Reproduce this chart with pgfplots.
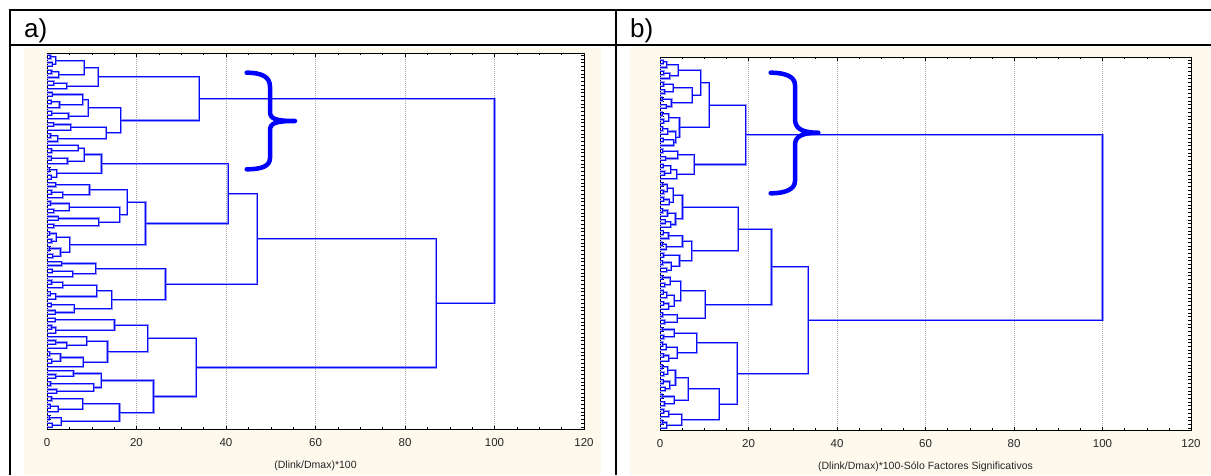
\documentclass[border=0pt]{standalone}
\usepackage{fontspec}
\setmainfont{Liberation Sans}
\usepackage{pgfplots}
\pgfplotsset{compat=1.18}
\usepackage{pgfplotstable}

\definecolor{cream}{RGB}{253,249,237}
\definecolor{treeblue}{RGB}{10,10,255}
\definecolor{treehalo}{RGB}{150,150,255}
\definecolor{braceblue}{RGB}{0,0,255}

% Each row is one merge: child positions (ya, yb), child heights (ha, hb), merge height h
\pgfplotstableread{
ya ha yb hb h
1 0 2 0 0.8
3 0 4 0 1.2
1.5 0.8 3.5 1.2 2.0
5 0 6 0 1.0
5.5 1.0 7 0 2.6
2.5 2.0 6.25 2.6 8.3
8 0 9 0 1.5
8.5 1.5 10 0 4.4
4.375 8.3 9.25 4.4 11.4
11 0 12 0 1.2
13 0 14 0 0.9
13.5 0.9 15 0 2.8
11.5 1.2 14.25 2.8 8.0
16 0 17 0 1.1
16.5 1.1 18 0 4.8
12.875 8.0 17.25 4.8 9.2
19 0 20 0 1.5
19.5 1.5 21 0 5.3
22 0 23 0 0.8
22.5 0.8 24 0 2.4
20.25 5.3 23.25 2.4 13.2
15.0625 9.2 21.75 13.2 16.5
6.8125 11.4 18.40625 16.5 34
26 0 27 0 1.0
25 0 26.5 1.0 7.0
28 0 29 0 0.9
28.5 0.9 30 0 4.6
25.75 7.0 29.25 4.6 8.3
31 0 32 0 0.5
33 0 34 0 0.9
31.5 0.5 33.5 0.9 2.2
27.5 8.3 32.5 2.2 12.2
35 0 36 0 2.0
37 0 38 0 1.0
37.5 1.0 39 0 3.5
35.5 2.0 38.25 3.5 9.5
40 0 41 0 0.8
42 0 43 0 1.5
40.5 0.8 42.5 1.5 5.0
44 0 45 0 2.5
46 0 47 0 1.5
44.5 2.5 46.5 1.5 11.6
41.5 5.0 45.5 11.6 16.3
36.875 9.5 43.5 16.3 17.9
48 0 49 0 0.6
50 0 51 0 1.0
48.5 0.6 50.5 1.0 2.1
52 0 53 0 0.5
54 0 55 0 1.3
52.5 0.5 54.5 1.3 3.0
49.5 2.1 53.5 3.0 5.1
40.1875 17.9 51.5 5.1 22
30 12.2 45.84375 22 40.5
56 0 57 0 3.3
58 0 59 0 1.2
58.5 1.2 60 0 5.8
56.5 3.3 59.25 5.8 10.9
61 0 62 0 1.0
61.5 1.0 63 0 3.5
64 0 65 0 0.7
64.5 0.7 66 0 2.0
62.25 3.5 65.25 2.0 11.1
67 0 68 0 0.9
69 0 70 0 1.8
67.5 0.9 69.5 1.8 6.1
63.75 11.1 68.5 6.1 14.5
57.875 10.9 66.125 14.5 26.5
37.921875 40.5 62 26.5 47
71 0 72 0 1.8
73 0 74 0 1.0
73.5 1.0 75 0 2.0
71.5 1.8 74.25 2.0 15.1
77 0 78 0 2.0
77.5 2.0 79 0 4.4
76 0 78.25 4.4 8.9
80 0 81 0 0.6
82 0 83 0 1.1
80.5 0.6 82.5 1.1 3.0
81.5 3.0 84 0 8.1
77.125 8.9 82.75 8.1 13.5
72.875 15.1 79.9375 13.5 22.5
86 0 87 0 2.0
85 0 86.5 2.0 5.9
88 0 89 0 0.8
90 0 91 0 2.2
88.5 0.8 90.5 2.2 10.5
85.75 5.9 89.5 10.5 12.1
92 0 93 0 1.0
94 0 95 0 0.7
94.5 0.7 96 0 2.5
92.5 1.0 95.25 2.5 8.0
97 0 98 0 0.5
99 0 100 0 1.2
97.5 0.5 99.5 1.2 3.2
93.875 8.0 98.5 3.2 16.2
87.625 12.1 96.1875 16.2 23.8
76.40625 22.5 91.90625 23.8 33.3
49.9609375 47 84.15625 33.3 87
12.609375 34 67.05859375 87 100
}\treeA

\pgfplotstableread{
ya ha yb hb h
1 0 2 0 0.7
1.5 0.7 3 0 1.5
4 0 5 0 0.9
4.5 0.9 6 0 2.2
2.25 1.5 5.25 2.2 4.1
7 0 8 0 0.8
9 0 10 0 1.0
7.5 0.8 9.5 1.0 3.0
11 0 12 0 0.5
13 0 14 0 1.4
11.5 0.5 13.5 1.4 2.6
8.5 3.0 12.5 2.6 7.3
3.75 4.1 10.5 7.3 9.2
15 0 16 0 0.5
17 0 18 0 0.9
15.5 0.5 17.5 0.9 2.0
19 0 20 0 0.6
19.5 0.6 21 0 1.8
22 0 23 0 0.7
22.5 0.7 24 0 3.1
20.25 1.8 23.25 3.1 3.6
16.5 2.0 21.75 3.6 4.4
7.125 9.2 19.125 4.4 11.1
25 0 26 0 0.6
27 0 28 0 1.3
25.5 0.6 27.5 1.3 4.0
29 0 30 0 0.7
31 0 32 0 1.0
29.5 0.7 31.5 1.0 2.4
30.5 2.4 33 0 3.8
26.5 4.0 31.75 3.8 7.7
13.125 11.1 29.125 7.7 19.4
34 0 35 0 0.5
36 0 37 0 0.8
34.5 0.5 36.5 0.8 1.6
38 0 39 0 0.9
38.5 0.9 40 0 2.1
35.5 1.6 39.25 2.1 3.0
41 0 42 0 0.6
41.5 0.6 43 0 1.7
44 0 45 0 1.2
44.5 1.2 46 0 2.4
42.25 1.7 45.25 2.4 3.5
37.375 3.0 43.75 3.5 5.1
47 0 48 0 0.7
47.5 0.7 49 0 1.9
50 0 51 0 0.5
50.5 0.5 52 0 1.4
48.25 1.9 51.25 1.4 5.1
53 0 54 0 0.8
55 0 56 0 0.6
57 0 58 0 1.5
55.5 0.6 57.5 1.5 2.5
53.5 0.8 56.5 2.5 4.4
49.75 5.1 55 4.4 7.2
40.5625 5.1 52.375 7.2 17.7
59 0 60 0 0.5
61 0 62 0 1.1
59.5 0.5 61.5 1.1 2.3
63 0 64 0 0.7
63.5 0.7 65 0 1.5
66 0 67 0 0.9
66.5 0.9 68 0 2.0
64.25 1.5 67.25 2.0 3.2
60.5 2.3 65.75 3.2 4.7
69 0 70 0 0.6
71 0 72 0 1.0
69.5 0.6 71.5 1.0 3.9
63.125 4.7 70.5 3.9 10.2
46.46875 17.7 66.8125 10.2 25.2
73 0 74 0 0.5
75 0 76 0 0.8
73.5 0.5 75.5 0.8 3.2
77 0 78 0 0.6
77.5 0.6 79 0 1.4
80 0 81 0 0.8
80.5 0.8 82 0 2.0
78.25 1.4 81.25 2.0 3.9
74.5 3.2 79.75 3.9 8.3
83 0 84 0 0.5
85 0 86 0 0.9
83.5 0.5 85.5 0.9 1.8
87 0 88 0 0.7
89 0 90 0 1.2
87.5 0.7 89.5 1.2 2.2
84.5 1.8 88.5 2.2 3.5
91 0 92 0 0.5
93 0 94 0 1.0
91.5 0.5 93.5 1.0 3.2
86.5 3.5 92.5 3.2 6.4
95 0 96 0 0.9
95.5 0.9 97 0 2.0
98 0 99 0 0.5
98.5 0.5 100 0 1.5
96.25 2.0 99.25 1.5 4.9
89.5 6.4 97.75 4.9 13.4
77.125 8.3 93.625 13.4 17.4
56.640625 25.2 85.375 17.4 33.5
21.125 19.4 71.0078125 33.5 100
}\treeB

\pgfplotsset{
  halo/.style={draw=treehalo, fill=none, line width=2.2pt, line join=miter, line cap=butt},
  dendro/.style={draw=treeblue, fill=none, line width=1pt, line join=miter, line cap=butt},
  panel/.style={
    scale only axis,
    axis background/.style={fill=white},
    xmin=0, xmax=120,
    xtick={0,20,...,120},
    minor x tick num=3,
    ytick={1,...,100},
    yticklabels={},
    y dir=reverse,
    xmajorgrids,
    major x grid style={draw=black!35, dash pattern=on 1pt off 1pt, line width=0.7pt},
    tick align=inside,
    major tick length=3.5pt,
    minor tick length=2pt,
    tick style={draw=black, line width=0.5pt},
    axis line style={draw=black, line width=0.8pt},
    /pgf/number format/assume math mode=true,
    xticklabel style={font=\fontsize{11.5}{13}\selectfont, text=black!85, yshift=-6pt},
    xlabel style={font=\fontsize{10.5}{12}\selectfont, text=black!85,
      at={(axis description cs:0.5,0)}, anchor=center, yshift=-37pt},
  },
}

% Draw every merge of a tree as one bracket (arm, joint, arm) in the given style
\newcommand{\dendrogram}[2]{%
  \pgfplotstablegetrowsof{#1}%
  \pgfmathtruncatemacro{\lastrow}{\pgfplotsretval-1}%
  \pgfplotsforeachungrouped \r in {0,...,\lastrow}{%
    \pgfplotstablegetelem{\r}{ya}\of{#1}\let\Ya\pgfplotsretval
    \pgfplotstablegetelem{\r}{ha}\of{#1}\let\Ha\pgfplotsretval
    \pgfplotstablegetelem{\r}{yb}\of{#1}\let\Yb\pgfplotsretval
    \pgfplotstablegetelem{\r}{hb}\of{#1}\let\Hb\pgfplotsretval
    \pgfplotstablegetelem{\r}{h}\of{#1}\let\Hm\pgfplotsretval
    \edef\merge{\noexpand\addplot[#2] coordinates
      {(\Ha,\Ya) (\Hm,\Ya) (\Hm,\Yb) (\Hb,\Yb)};}%
    \merge
  }%
}

\begin{document}
\begin{tikzpicture}
\path[use as bounding box] (0,0) rectangle (1211pt,475pt);

% panel backgrounds
\fill[fill=cream] (24pt,0pt) rectangle (601pt,427pt);
\fill[fill=cream] (630pt,0pt) rectangle (1211pt,428pt);

\begin{axis}[panel, at={(47pt,46pt)}, anchor=south west,
  width=537pt, height=376pt, ymin=0.468, ymax=100.532,
  xlabel={(Dlink/Dmax)*100}]
  \dendrogram{\treeA}{halo}
  \dendrogram{\treeA}{dendro}
\end{axis}

\begin{axis}[panel, at={(660pt,45pt)}, anchor=south west,
  width=531pt, height=373pt, ymin=0.193, ymax=100.538,
  xlabel={(Dlink/Dmax)*100-Sólo Factores Significativos}]
  \dendrogram{\treeB}{halo}
  \dendrogram{\treeB}{dendro}
\end{axis}

% braces marking the group of interest
\draw[draw=braceblue, line width=4.5pt, line cap=round, line join=round]
  (246.7pt,402.3pt) .. controls (262pt,402.3pt) and (270pt,398pt) .. (270pt,388.3pt)
  -- (270pt,363.3pt) .. controls (270pt,356pt) and (276pt,354pt) .. (295pt,354pt)
  .. controls (276pt,354pt) and (270pt,352pt) .. (270pt,344.7pt)
  -- (270pt,317pt) .. controls (270pt,309pt) and (262pt,305.7pt) .. (246.7pt,305.7pt);
\draw[draw=braceblue, line width=4.5pt, line cap=round, line join=round]
  (770.7pt,402.3pt) .. controls (786pt,402.3pt) and (795pt,398pt) .. (795pt,390pt)
  -- (795pt,356pt) .. controls (795pt,347pt) and (801pt,342.3pt) .. (818.3pt,342.3pt)
  .. controls (801pt,342.3pt) and (795pt,338pt) .. (795pt,330pt)
  -- (795pt,294pt) .. controls (795pt,286pt) and (786pt,281.7pt) .. (770.7pt,281.7pt);

% table frame and headers
\draw[draw=black, line width=2pt] (10pt,0pt) -- (10pt,465pt) -- (1211pt,465pt);
\draw[draw=black, line width=2pt] (10pt,430pt) -- (1211pt,430pt);
\draw[draw=black, line width=2pt] (616pt,0pt) -- (616pt,465pt);
\node[anchor=base west, inner sep=0pt, font=\fontsize{26}{28}\selectfont] at (24pt,437.5pt) {a)};
\node[anchor=base west, inner sep=0pt, font=\fontsize{26}{28}\selectfont] at (630pt,437.5pt) {b)};
\end{tikzpicture}
\end{document}
